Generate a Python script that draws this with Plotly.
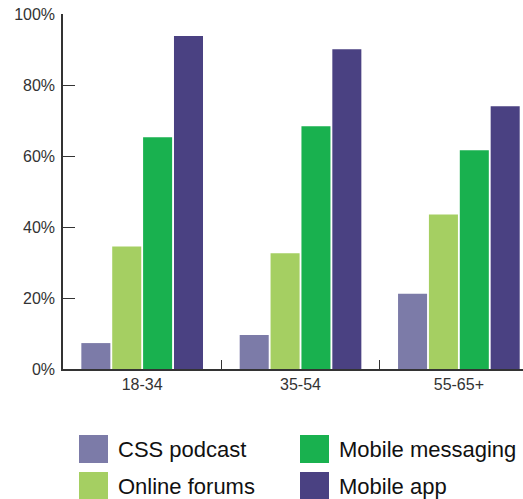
import plotly.graph_objects as go

# Age groups and share of respondents (%) per channel
age_groups = ["18-34", "35-54", "55-65+"]
css_podcast = [7.3, 9.6, 21.2]
online_forums = [34.5, 32.6, 43.5]
mobile_messaging = [65.3, 68.4, 61.6]
mobile_app = [93.8, 90.1, 74.0]

series_names = ["CSS podcast", "Online forums", "Mobile messaging", "Mobile app"]
series_values = [css_podcast, online_forums, mobile_messaging, mobile_app]
series_colors = ["#7c7ba8", "#a5cf62", "#19b14f", "#4a4182"]

y_ticks = [0, 20, 40, 60, 80, 100]
y_tick_labels = [f"{v}%" for v in y_ticks]

fig = go.Figure()
for name, vals, color in zip(series_names, series_values, series_colors):
    fig.add_trace(go.Bar(x=age_groups, y=vals, name=name,
                         marker=dict(color=color, line=dict(width=0)),
                         showlegend=False))

axis_color = "#333333"
tick_font = dict(family="Liberation Sans, Arial, sans-serif", size=16, color="#333333")

fig.update_layout(
    width=523, height=499,
    margin=dict(l=63, r=0, t=14, b=130),
    paper_bgcolor="white", plot_bgcolor="white",
    barmode="group", bargap=0.22, bargroupgap=0.06,
    xaxis=dict(
        type="category", range=[-0.5, 2.405],
        showline=True, linecolor=axis_color, linewidth=1.5,
        ticks="inside", tickson="boundaries", ticklen=9, tickcolor=axis_color, tickwidth=1,
        tickfont=tick_font, showgrid=False, zeroline=False,
    ),
    yaxis=dict(
        range=[0, 100], tickmode="array", tickvals=y_ticks, ticktext=y_tick_labels,
        showline=True, linecolor=axis_color, linewidth=1.5,
        ticks="inside", ticklen=12, tickcolor=axis_color, tickwidth=1,
        tickfont=tick_font, showgrid=False, zeroline=False,
        ticklabelstandoff=3,
    ),
)

# Custom legend with large square swatches below the chart
legend_font = dict(family="Liberation Sans, Arial, sans-serif", size=22, color="#111111")
legend_pos = [(79, 449), (79, 486), (300, 449), (300, 486)]
W, H = 523, 499
for (px, py), name, color in zip(legend_pos, series_names, series_colors):
    fig.add_shape(type="rect", xref="paper", yref="paper",
                  x0=(px - 63) / (W - 63), x1=(px + 29 - 63) / (W - 63),
                  y0=(H - 130 - (py + 14)) / (H - 130 - 14),
                  y1=(H - 130 - (py - 14)) / (H - 130 - 14),
                  fillcolor=color, line=dict(width=0))
    fig.add_annotation(xref="paper", yref="paper",
                       x=(px + 37 - 63) / (W - 63),
                       y=(H - 130 - py) / (H - 130 - 14),
                       text=name, showarrow=False, xanchor="left", yanchor="middle",
                       font=legend_font)

fig.write_html("out.html")
